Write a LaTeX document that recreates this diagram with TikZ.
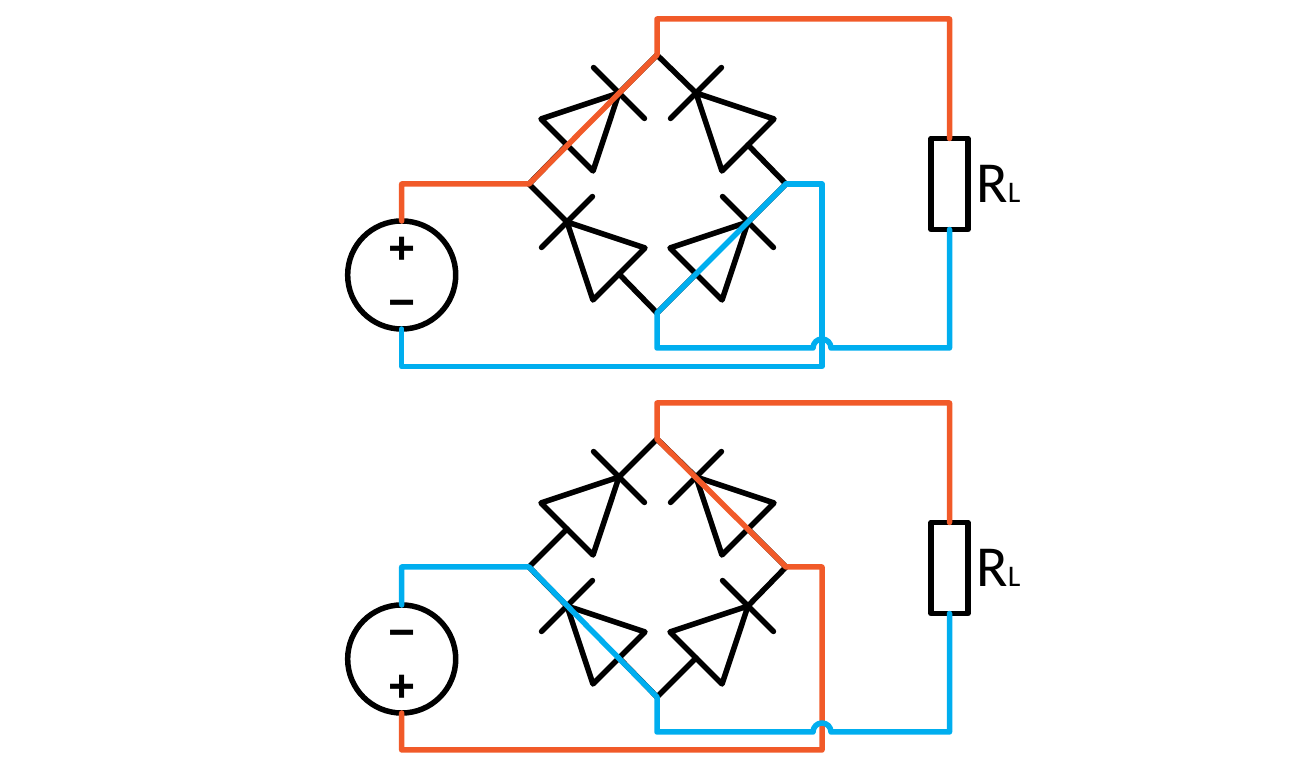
\documentclass[tikz,border=0pt]{standalone}
\usepackage{fontspec}
\setmainfont{Carlito}
\newfontfamily\signfont{Open Sans}
\definecolor{wirered}{HTML}{F15A29}
\definecolor{wireblue}{HTML}{00AEEF}
\begin{document}
\begin{tikzpicture}[x=0.01cm, y=-0.01cm, line width=0.55mm, line cap=round, line join=round,
    source/.style = {draw, circle, minimum size=1.08cm, inner sep=0, outer sep=0},
    load/.style = {draw, rectangle, minimum width=0.37cm, minimum height=0.91cm, inner sep=0, outer sep=0},
    sign/.style = {font=\signfont\bfseries\fontsize{13.5}{14}\selectfont, inner sep=0},
    value/.style = {anchor=base west, inner sep=0, font=\fontsize{16.5}{17}\selectfont},
    red/.style = {draw=wirered},
    blue/.style = {draw=wireblue},
    diode/.pic = {
        \coordinate (-tip) at (0,0);
        \coordinate (-base) at (-73.5,0);
        \draw (-73.5,36.8) -- (0,0) -- (-73.5,-36.8) -- cycle;
        \draw (0,36) -- (0,-36);
    }]
    \useasboundingbox (0,0) rectangle (1315,768);

    % upper circuit
    \coordinate (t1) at (657,55);
    \coordinate (l1) at (529,184);
    \coordinate (r1) at (786,184);
    \coordinate (b1) at (657,313);
    \coordinate (rt1) at (822,184);
    \coordinate (rb1) at (822,366.5);
    \coordinate (sb1) at (401.7,366.5);
    \coordinate (st1) at (401.7,184);
    \coordinate (tt1) at (657,19);
    \coordinate (lt1) at (949.5,19);
    \coordinate (bb1) at (657,348);
    \coordinate (hl1) at (813,348);
    \coordinate (lb1) at (949.5,348);
    \pic[rotate=45] (tl1) at (619,93) {diode};
    \pic[rotate=135] (tr1) at (696,93) {diode};
    \pic[rotate=135] (bl1) at (567,222) {diode};
    \pic[rotate=45] (br1) at (748,222) {diode};
    \node[source] (vs1) at (401.7,275) {};
    \node[sign] (plus1) at (401.7,251) {+};
    \node[sign] (minus1) at (401.7,310) {−};
    \node[load] (rl1) at (949.5,184) {};
    \node[value] (rv1) at (973.5,203) {R{\fontsize{8.5}{9}\selectfont L}};
    \draw (t1) -- (tl1-tip);
    \draw (tl1-base) -- (l1);
    \draw (t1) -- (tr1-tip);
    \draw (tr1-base) -- (r1);
    \draw (l1) -- (bl1-tip);
    \draw (bl1-base) -- (b1);
    \draw (r1) -- (br1-tip);
    \draw (br1-base) -- (b1);
    \draw[red] (vs1.north) -- (st1) -- (l1) -- (t1) -- (tt1) -- (lt1) -- (rl1.north);
    \draw[blue] (r1) -- (rt1) -- (rb1) -- (sb1) -- (vs1.south);
    \draw[blue] (r1) -- (b1) -- (bb1) -- (hl1) arc[start angle=180, end angle=360, radius=9] -- (lb1) -- (rl1.south);

    % lower circuit
    \coordinate (t2) at (657,439);
    \coordinate (l2) at (529,567);
    \coordinate (r2) at (786,567);
    \coordinate (b2) at (657,697);
    \coordinate (rt2) at (822,567);
    \coordinate (rb2) at (822,750);
    \coordinate (sb2) at (401.7,750);
    \coordinate (st2) at (401.7,567);
    \coordinate (tt2) at (657,403);
    \coordinate (lt2) at (949.5,403);
    \coordinate (bb2) at (657,732);
    \coordinate (hl2) at (813,732);
    \coordinate (lb2) at (949.5,732);
    \pic[rotate=45] (tl2) at (619,477) {diode};
    \pic[rotate=135] (tr2) at (696,477) {diode};
    \pic[rotate=135] (bl2) at (567,606) {diode};
    \pic[rotate=45] (br2) at (748,606) {diode};
    \node[source] (vs2) at (401.7,659) {};
    \node[sign] (minus2) at (401.7,640) {−};
    \node[sign] (plus2) at (401.7,689) {+};
    \node[load] (rl2) at (949.5,568) {};
    \node[value] (rv2) at (973.5,587) {R{\fontsize{8.5}{9}\selectfont L}};
    \draw (t2) -- (tl2-tip);
    \draw (tl2-base) -- (l2);
    \draw (t2) -- (tr2-tip);
    \draw (tr2-base) -- (r2);
    \draw (l2) -- (bl2-tip);
    \draw (bl2-base) -- (b2);
    \draw (r2) -- (br2-tip);
    \draw (br2-base) -- (b2);
    \draw[red] (vs2.south) -- (sb2) -- (rb2) -- (rt2) -- (r2) -- (t2) -- (tt2) -- (lt2) -- (rl2.north);
    \draw[blue] (vs2.north) -- (st2) -- (l2) -- (b2) -- (bb2) -- (hl2) arc[start angle=180, end angle=360, radius=9] -- (lb2) -- (rl2.south);
\end{tikzpicture}
\end{document}
